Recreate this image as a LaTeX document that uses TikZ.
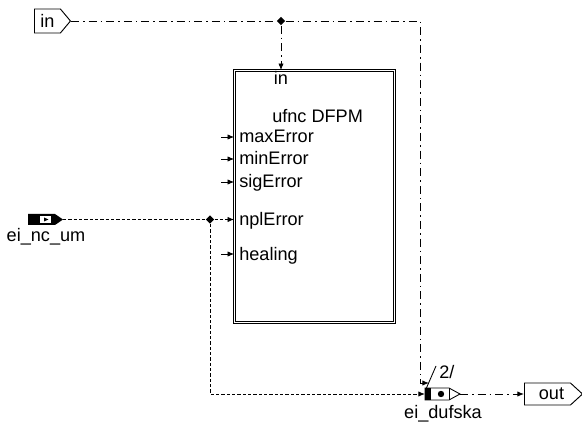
\documentclass[tikz,border=0pt]{standalone}
\usepackage{fontspec}
\setmainfont{Liberation Sans}
\usetikzlibrary{arrows.meta,shapes.geometric,shapes.symbols}

\begin{document}
\begin{tikzpicture}[
    x=0.75pt, y=-0.75pt,
    txt/.style={font=\fontsize{13.6}{16}\selectfont, inner sep=0pt},
    port/.style={
      draw,
      line width=0.7pt,
      shape=signal,
      signal to=east,
      txt,
      inner xsep=3pt,
      anchor=west
    },
    junc/.style={diamond, fill, inner sep=0pt, minimum size=6.5pt},
    wire/.style={line width=0.65pt},
    dashdot/.style={wire, dash pattern=on 6pt off 3pt on 1.2pt off 3pt},
    dotline/.style={wire, dash pattern=on 2.4pt off 1.6pt},
    >={Latex[length=5pt,width=4pt]}
  ]
    \useasboundingbox (0,0) rectangle (582,424);

    % function block
    \node[draw, double, double distance=1.2pt, line width=0.65pt,
          minimum width=119.8pt, minimum height=188.8pt] (dfpm) at (314.5,196.5) {};
    \node[txt, anchor=base] (tin) at (281,85) {in};
    \node[txt, anchor=base west] (tname) at (272,123) {ufnc DFPM};

    \foreach \name/\lbl/\yy in {pmax/maxError/137, pmin/minError/159, psig/sigError/182, pnpl/nplError/219, pheal/healing/254} {
      \node[txt, anchor=base west] (\name) at (239,\yy+6) {\lbl};
      \coordinate (a\name) at (221,\yy);
    }
    \foreach \name in {pmax, pmin, psig, pheal}
      \draw[wire, ->] (a\name) -- (dfpm.west |- a\name);

    % top input
    \node[port, minimum width=27pt, minimum height=18pt, signal pointer angle=100] (inp) at (34,21) {in\hspace{9pt}};
    \node[junc] (jtop) at (281,21) {};
    \coordinate (bend) at (420,383);
    \coordinate (bus) at (429,383);
    \draw[dashdot] (inp.east) -- (jtop);
    \draw[dashdot, ->] (jtop) -- (dfpm.north -| jtop);
    \draw[dashdot, ->] (jtop) -| (bend) -- (bus);

    % ei_nc_um
    \fill (28,214) -- (55,214) -- (63,219.5) -- (55,225) -- (28,225) -- cycle;
    \fill[white] (40,216) rectangle (51,223);
    \fill (44,217.5) -- (48.5,219.5) -- (44,221.5) -- cycle;
    \coordinate (ncum) at (63,219.5);
    \node[txt, anchor=base] (lncum) at (46,242) {ei\_nc\_um};
    \node[junc] (jnpl) at (210,219.5) {};
    \draw[dotline] (ncum) -- (jnpl);
    \draw[dotline, ->] (jnpl) -- (dfpm.west |- jnpl);

    % ei_dufska
    \coordinate (dufw) at (425,394);
    \coordinate (dufe) at (460,394);
    \draw[wire, fill=white] (425,388) -- (449,388) -- (460,394) -- (449,400) -- (425,400) -- cycle;
    \draw[wire] (449,388) -- (449,400);
    \fill (425,388) rectangle (431,400);
    \fill (441,394) circle (2.4pt);
    \node[txt, anchor=base] (lduf) at (443,418) {ei\_dufska};
    \draw[wire] (426,389) -- (436,366);
    \node[txt, anchor=base west] (bw) at (439,378) {2/};
    \draw[dotline, ->] (jnpl) |- (dufw);

    % output
    \node[port, minimum width=43.5pt, minimum height=16.5pt, signal pointer angle=85] (outp) at (524,394) {\hspace{6pt}out\hspace{6pt}};
    \draw[dashdot, ->] (dufe) -- (outp.west);
  \end{tikzpicture}
\end{document}
